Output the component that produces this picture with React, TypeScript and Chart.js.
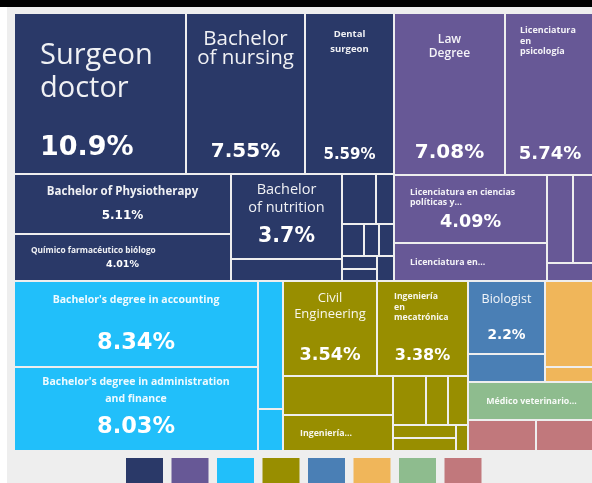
import React, { useEffect, useRef } from 'react';
import { Chart, registerables } from 'chart.js';

Chart.register(...registerables);

// ---- data ----
const groupColors = ['#2A3968', '#675896', '#21BFFA', '#988E00', '#4A7FB5', '#F0B65A', '#8EBC8E', '#C1787C'];

const careerNames = [
  'Surgeon doctor', 'Bachelor of nursing', 'Dental surgeon', 'Bachelor of Physiotherapy', 'Químico farmacéutico biólogo', 'Bachelor of nutrition', '', '', '', '', '', '', '', '', '',
  'Law Degree', 'Licenciatura en psicología', 'Licenciatura en ciencias políticas y...', 'Licenciatura en...', '', '', '',
  "Bachelor's degree in accounting", "Bachelor's degree in administration and finance", '', '',
  'Civil Engineering', 'Ingeniería en mecatrónica', '', 'Ingeniería...', '', '', '', '', '', '',
  'Biologist', '',
  '', '',
  'Médico veterinario...',
  '', '',
];
const careerShares = [
  10.9, 7.55, 5.59, 5.11, 4.01, 3.7, 0.95, 0.67, 0.34, 0.27, 0.2, 0.18, 0.17, 0.16, 0.16,
  7.08, 5.74, 4.09, 2.27, 0.9, 0.78, 0.33,
  8.34, 8.03, 1.23, 0.4,
  3.54, 3.38, 1.71, 1.54, 0.64, 0.43, 0.39, 0.33, 0.32, 0.12,
  2.2, 0.85,
  1.7, 0.3,
  1.9,
  0.83, 0.73,
];
const careerGroup = [
  0, 0, 0, 0, 0, 0, 0, 0, 0, 0, 0, 0, 0, 0, 0,
  1, 1, 1, 1, 1, 1, 1,
  2, 2, 2, 2,
  3, 3, 3, 3, 3, 3, 3, 3, 3, 3,
  4, 4,
  5, 5,
  6,
  7, 7,
];

// ---- label styles (text only) ----
type LabelStyle = {
  size: number; weight: number; align?: 'left' | 'center'; pad?: number; split?: number[];
  top?: number; lh?: number; vsize?: number; vleft?: boolean;
};
const labelStyles: Record<string, LabelStyle> = {
  'Surgeon doctor': { size: 29, weight: 400, align: 'left', pad: 25, split: [1, 1], top: 50, lh: 33, vsize: 27, vleft: true },
  'Bachelor of nursing': { size: 20.5, weight: 400, split: [1, 2], top: 31, lh: 19, vsize: 20 },
  'Dental surgeon': { size: 9.5, weight: 700, split: [1, 1], top: 23, lh: 15, vsize: 15 },
  'Law Degree': { size: 12, weight: 600, split: [1, 1], top: 29, lh: 14, vsize: 20 },
  'Licenciatura en psicología': { size: 9, weight: 700, align: 'left', pad: 14, split: [1, 1, 1], top: 19, lh: 10.5, vsize: 18 },
  'Bachelor of Physiotherapy': { size: 11.5, weight: 700, top: 20, vsize: 12 },
  'Químico farmacéutico biólogo': { size: 8.3, weight: 700, align: 'left', pad: 16, top: 18, vsize: 9.5 },
  'Bachelor of nutrition': { size: 14.5, weight: 500, split: [1, 2], top: 19, lh: 18, vsize: 20.5 },
  'Licenciatura en ciencias políticas y...': { size: 8.8, weight: 700, align: 'left', pad: 15, split: [3, 2], top: 18.5, lh: 10, vsize: 17.6 },
  'Licenciatura en...': { size: 8.8, weight: 700, align: 'left', pad: 15 },
  "Bachelor's degree in accounting": { size: 10.5, weight: 700, top: 21, vsize: 22.5 },
  "Bachelor's degree in administration and finance": { size: 10.5, weight: 700, split: [4, 2], top: 17, lh: 17, vsize: 22.5 },
  'Civil Engineering': { size: 13, weight: 500, split: [1, 1], top: 19.5, lh: 16.5, vsize: 17.6 },
  'Ingeniería en mecatrónica': { size: 8.7, weight: 700, align: 'left', pad: 16, split: [1, 1, 1], top: 17, lh: 10.5, vsize: 16 },
  'Ingeniería...': { size: 8.8, weight: 700, align: 'left', pad: 16 },
  'Biologist': { size: 12.5, weight: 500, top: 21, vsize: 13.7 },
  'Médico veterinario...': { size: 8.8, weight: 700 },
};

// ---- treemap layout ----
type Rect = { x: number; y: number; w: number; h: number };
const FILL = 0.55;        // a row is closed once it holds this share of what is left
const MAX_ASPECT = 5.5;   // never add a cell that would be thinner than this
const ROW_ASPECT = 1.47;  // rows run across the width unless the free area is this much wider than tall

function squarify(vals: number[], rect: Rect): Rect[] {
  const out: Rect[] = [];
  let r = { ...rect };
  let remaining = vals.reduce((a, b) => a + b, 0);
  let i = 0;
  while (i < vals.length) {
    const horizontal = r.w < ROW_ASPECT * r.h;
    const side = horizontal ? r.w : r.h;
    const across = horizontal ? r.h : r.w;
    let j = i;
    let sum = 0;
    while (j < vals.length) {
      const v = vals[j];
      if (j > i) {
        const ns = sum + v;
        const t = across * ns / remaining;
        const l = side * v / ns;
        if (t / l > MAX_ASPECT) break;
      }
      sum += v;
      j++;
      if (sum >= FILL * remaining) break;
    }
    const t = j >= vals.length ? across : across * sum / remaining;
    let pos = 0;
    for (let k = i; k < j; k++) {
      const l = side * vals[k] / sum;
      out.push(horizontal ? { x: r.x + pos, y: r.y, w: l, h: t } : { x: r.x, y: r.y + pos, w: t, h: l });
      pos += l;
    }
    r = horizontal ? { x: r.x, y: r.y + t, w: r.w, h: r.h - t } : { x: r.x + t, y: r.y, w: r.w - t, h: r.h };
    remaining -= sum;
    i = j;
  }
  return out;
}

type Cell = Rect & { item: number; group: number };
function computeCells(W: number, H: number): Cell[] {
  const gIdx = groupColors.map((_, g) => g);
  const gSum = gIdx.map((g) => careerShares.reduce((s, v, i) => (careerGroup[i] === g ? s + v : s), 0));
  const gOrder = gIdx.filter((g) => gSum[g] > 0).sort((a, b) => gSum[b] - gSum[a]);
  const gRects = squarify(gOrder.map((g) => gSum[g]), { x: 0, y: 0, w: W, h: H });
  const cells: Cell[] = [];
  gOrder.forEach((g, k) => {
    const members = careerShares.map((_, i) => i).filter((i) => careerGroup[i] === g)
      .sort((a, b) => careerShares[b] - careerShares[a]);
    const rects = squarify(members.map((i) => careerShares[i]), gRects[k]);
    members.forEach((i, m) => cells.push({ ...rects[m], item: i, group: g }));
  });
  return cells;
}

function splitLines(name: string, split?: number[]): string[] {
  if (!split) return [name];
  const words = name.split(' ');
  const out: string[] = [];
  let k = 0;
  for (const c of split) {
    out.push(words.slice(k, k + c).join(' '));
    k += c;
  }
  if (k < words.length) out[out.length - 1] += ' ' + words.slice(k).join(' ');
  return out;
}

const fmt = (v: number) => `${parseFloat(v.toPrecision(3))}%`;

const treemapPlugin = {
  id: 'treemapCells',
  afterDatasetsDraw(chart: any) {
    const { ctx, chartArea: ca, scales } = chart;
    const xs = scales.x;
    const ys = scales.y;
    const W = ca.right - ca.left;
    const H = ca.bottom - ca.top;
    const cells = computeCells(W, H);
    const boxes = cells.map((c) => {
      const x0 = Math.round(xs.getPixelForValue((c.x / W) * 100));
      const x1 = Math.round(xs.getPixelForValue(((c.x + c.w) / W) * 100));
      const y0 = Math.round(ys.getPixelForValue((c.y / H) * 100));
      const y1 = Math.round(ys.getPixelForValue(((c.y + c.h) / H) * 100));
      return { x0: x0 + 1, x1: x1 - 1, y0: y0 + 1, y1: y1 - 1, c };
    });
    ctx.save();
    for (const b of boxes) {
      ctx.fillStyle = groupColors[b.c.group];
      ctx.fillRect(b.x0, b.y0, b.x1 - b.x0, b.y1 - b.y0);
    }
    for (const b of boxes) {
      const name = careerNames[b.c.item];
      const st = labelStyles[name];
      if (!name || !st) continue;
      ctx.save();
      ctx.beginPath();
      ctx.rect(b.x0, b.y0, b.x1 - b.x0, b.y1 - b.y0);
      ctx.clip();
      const align = st.align || 'center';
      const pad = st.pad || 0;
      const lines = splitLines(name, st.split);
      const lh = st.lh || st.size * 1.3;
      ctx.font = `${st.weight} ${st.size}px "Open Sans"`;
      ctx.fillStyle = 'rgba(255,255,255,0.93)';
      ctx.textBaseline = 'alphabetic';
      ctx.textAlign = align;
      const ax = align === 'left' ? b.x0 + pad : (b.x0 + b.x1) / 2;
      const by = st.top != null
        ? b.y0 + st.top
        : (b.y0 + b.y1) / 2 + st.size * 0.36 - ((lines.length - 1) * lh) / 2;
      lines.forEach((ln, k) => ctx.fillText(ln, ax, by + k * lh));
      if (st.vsize) {
        ctx.font = `bold ${st.vsize}px "DejaVu Sans"`;
        ctx.fillStyle = '#FFFFFF';
        ctx.textAlign = st.vleft ? 'left' : 'center';
        const vx = st.vleft ? b.x0 + pad : (b.x0 + b.x1) / 2;
        ctx.fillText(fmt(careerShares[b.c.item]), vx, b.y1 - (10 + 0.3 * st.vsize));
      }
      ctx.restore();
    }
    ctx.restore();
  },
};

export default function App() {
  const ref = useRef<HTMLCanvasElement>(null);
  useEffect(() => {
    const canvas = ref.current;
    if (!canvas) return;
    const chart = new Chart(canvas, {
      type: 'scatter',
      data: { datasets: [{ label: 'careers', data: [] }] },
      options: {
        animation: false,
        responsive: false,
        layout: { padding: { left: 7, right: 0, top: 6, bottom: 0 } },
        scales: {
          x: { type: 'linear', min: 0, max: 100, display: false },
          y: { type: 'linear', min: 0, max: 100, reverse: true, display: false },
        },
        plugins: {
          tooltip: { enabled: false },
          legend: {
            display: true,
            position: 'bottom',
            align: 'center',
            labels: {
              boxWidth: 37,
              boxHeight: 30,
              padding: 7,
              font: { size: 3 },
              generateLabels: () =>
                groupColors.map((c, i) => ({
                  text: '',
                  fillStyle: c,
                  strokeStyle: c,
                  lineWidth: 0,
                  hidden: false,
                  datasetIndex: 0,
                  index: i,
                })),
            },
          },
        },
      },
      plugins: [treemapPlugin],
    } as any);
    return () => chart.destroy();
  }, []);
  return (
    <div style={{ position: 'fixed', left: 0, top: 0, width: 592, height: 483, overflow: 'hidden', background: '#EEEEEE' }}>
      <div style={{ position: 'absolute', left: 0, top: 0, width: 592, height: 7, background: '#000000' }} />
      <div style={{ position: 'absolute', left: 0, top: 7, width: 7, height: 476, background: '#FFFFFF' }} />
      <canvas
        ref={ref}
        width={588}
        height={491}
        style={{ position: 'absolute', left: 7, top: 7, width: 588, height: 491 }}
      />
    </div>
  );
}
